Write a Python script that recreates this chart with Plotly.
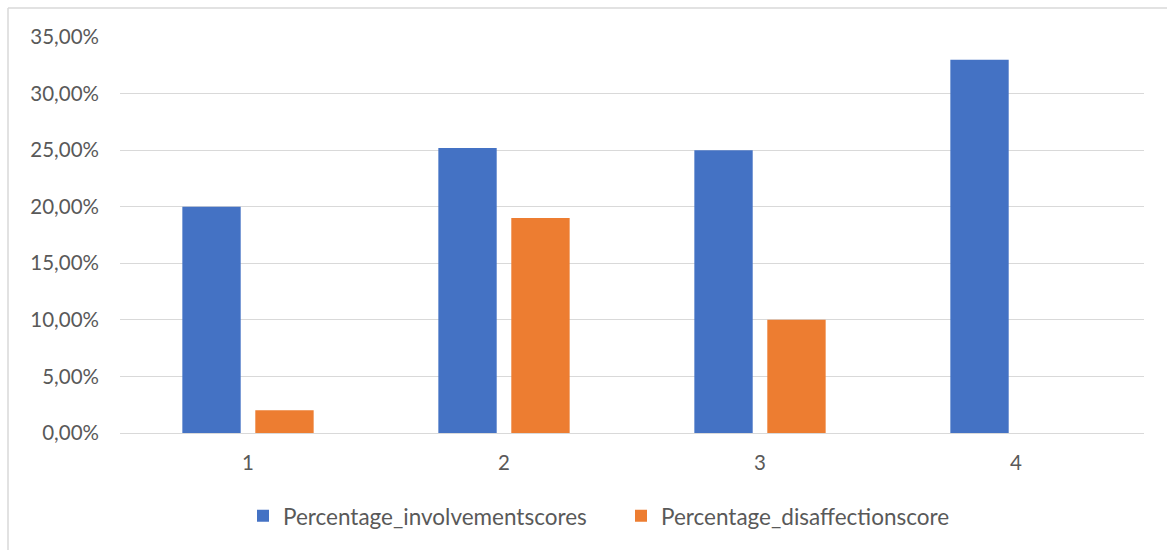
import plotly.graph_objects as go

# Score groups and the share of each score type
categories = ["1", "2", "3", "4"]
involvement = [0.20, 0.252, 0.25, 0.33]
disaffection = [0.02, 0.19, 0.10, 0.0]
y_ticks = [0.0, 0.05, 0.10, 0.15, 0.20, 0.25, 0.30, 0.35]
y_tick_labels = ["0,00%", "5,00%", "10,00%", "15,00%", "20,00%", "25,00%", "30,00%", "35,00%"]

BLUE = "#4472C4"
ORANGE = "#ED7D31"
GRID = "#D9D9D9"
TEXT = "#595959"
FONT = "Lato, 'Open Sans', sans-serif"

fig = go.Figure()
fig.add_trace(go.Bar(x=categories, y=involvement, name="Percentage_involvementscores",
                     marker=dict(color=BLUE, line=dict(width=0))))
fig.add_trace(go.Bar(x=categories, y=disaffection, name="Percentage_disaffectionscore",
                     marker=dict(color=ORANGE, line=dict(width=0))))

W, H = 1167, 550
ML, MR, MT, MB = 120, 23, 37, 117
pw, ph = W - ML - MR, H - MT - MB

# chart-area frame: left and top edges only
fx = (8 - ML) / pw
fy = 1 + (MT - 8) / ph
fig.add_shape(type="line", xref="paper", yref="paper", x0=fx, x1=fx, y0=-1, y1=fy,
              line=dict(color=GRID, width=1.5))
fig.add_shape(type="line", xref="paper", yref="paper", x0=fx, x1=1.2, y0=fy, y1=fy,
              line=dict(color=GRID, width=1.5))

fig.update_layout(
    width=W, height=H,
    margin=dict(l=ML, r=MR, t=MT, b=MB, pad=0),
    paper_bgcolor="white", plot_bgcolor="white",
    barmode="group", bargap=0.43, bargroupgap=0.2,
    font=dict(family=FONT, size=20.5, color=TEXT),
    showlegend=True,
    legend=dict(orientation="h", x=(621 - ML) / pw, xanchor="center", y=-0.21, yanchor="middle",
                font=dict(family=FONT, size=22.5, color=TEXT), itemwidth=30,
                entrywidth=333, entrywidthmode="pixels",
                traceorder="normal"),
    xaxis=dict(showgrid=False, showline=False, zeroline=False, ticks="",
               ticklabelstandoff=15, tickfont=dict(size=20.5, color=TEXT)),
    yaxis=dict(range=[0, 0.35], tickvals=y_ticks, ticktext=y_tick_labels,
               showgrid=True, gridcolor=GRID, gridwidth=1.3,
               zeroline=True, zerolinecolor=GRID, zerolinewidth=1.3,
               showline=False, ticks="", ticklabelstandoff=20,
               tickfont=dict(size=20.5, color=TEXT)),
)

fig.write_html("out.html")
